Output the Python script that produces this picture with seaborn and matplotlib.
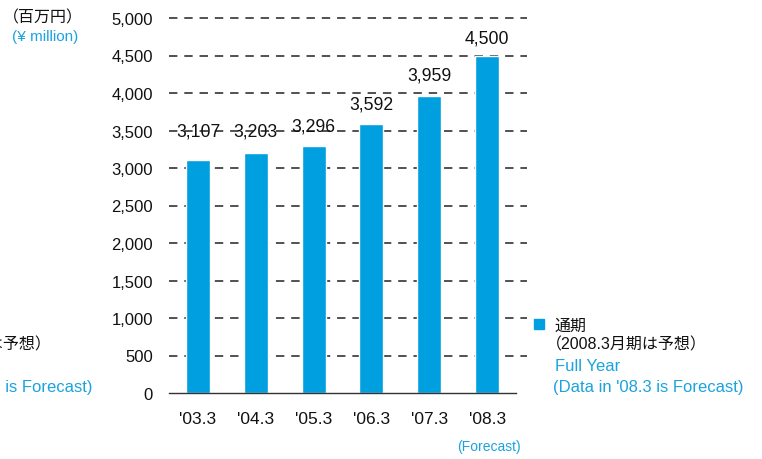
import matplotlib
matplotlib.use("Agg")
import matplotlib.pyplot as plt
import seaborn as sns
import pandas as pd
from matplotlib.ticker import FixedLocator, FuncFormatter

categories = ["'03.3", "'04.3", "'05.3", "'06.3", "'07.3", "'08.3"]
values = [3107, 3203, 3296, 3592, 3959, 4500]
value_labels = ["3,107", "3,203", "3,296", "3,592", "3,959", "4,500"]
yticks = [0, 500, 1000, 1500, 2000, 2500, 3000, 3500, 4000, 4500, 5000]

BAR = "#009FE0"
TXT_BLUE = "#1BA3DF"
W, H = 762, 460

sns.set_style("white")
plt.rcParams["font.family"] = ["Liberation Sans", "Noto Sans CJK JP", "DejaVu Sans"]

fig = plt.figure(figsize=(W / 100, H / 100), dpi=100)
ax = fig.add_axes([169 / W, (H - 394) / H, (527 - 169) / W, (394 - 19) / H])

df = pd.DataFrame({"cat": categories, "val": values})
sns.barplot(data=df, x="cat", y="val", color=BAR, saturation=1, width=0.415, ax=ax, zorder=3)

ax.set_xlim(-0.5, 5.69)
ax.set_ylim(0, 5000)
ax.set_xlabel("")
ax.set_ylabel("")

# grid (dashed, not at zero)
ax.set_yticks(yticks)
ax.yaxis.set_major_formatter(FuncFormatter(lambda v, p: f"{int(v):,}"))
for t in yticks[1:]:
    ax.axhline(t, linestyle=(0, (5.5, 4.5)), color="#222222", linewidth=1.1, zorder=1, clip_on=False)
ax.tick_params(axis="y", length=0, pad=11.5, labelsize=12, labelcolor="#111111")

# x axis
for s in ["top", "right", "left"]:
    ax.spines[s].set_visible(False)
ax.spines["bottom"].set_bounds(-0.5, 5.5)
ax.spines["bottom"].set_color("#333333")
ax.spines["bottom"].set_linewidth(1.0)
ax.spines["bottom"].set_zorder(4)
ax.xaxis.set_minor_locator(FixedLocator([i - 0.5 for i in range(7)]))
ax.tick_params(axis="x", which="major", length=0, pad=13, labelsize=12.5, labelcolor="#111111")
ax.tick_params(axis="x", which="minor", length=4, width=1.0, direction="in", color="#333333")

# value labels
label_pad_px = [29, 22, 20, 20, 21, 18]
for i, (v, lab) in enumerate(zip(values, value_labels)):
    ax.annotate(lab, (i, v), xytext=(0, label_pad_px[i] * 0.72), textcoords="offset points",
                ha="center", va="center", fontsize=12.7, color="#111111", zorder=5)

def fx(x):
    return x / W

def fy(y):
    return 1 - y / H

# unit labels
fig.text(fx(3), fy(18), "（百万円）", fontsize=11.5, color="#111111", va="center", ha="left")
fig.text(fx(12), fy(37), "(¥ million)", fontsize=11, color=TXT_BLUE, va="center", ha="left")

# forecast label
fig.text(fx(521), fy(447), "(Forecast)", fontsize=10, color=TXT_BLUE, va="center", ha="right")

# legend block (right)
x0 = 555
fig.patches.append(plt.Rectangle((fx(534), fy(330)), 10 / W, 10 / H,
                                 transform=fig.transFigure, color=BAR, figure=fig))
fig.text(fx(x0), fy(326), "通期", fontsize=11.5, color="#111111", va="center", ha="left")
fig.text(fx(x0 - 9), fy(345), "（2008.3月期は予想）", fontsize=11.5, color="#111111", va="center", ha="left")
fig.text(fx(x0), fy(367), "Full Year", fontsize=12, color=TXT_BLUE, va="center", ha="left")
fig.text(fx(x0 - 2), fy(388), "(Data in '08.3 is Forecast)", fontsize=12, color=TXT_BLUE, va="center", ha="left")

# cut-off copy of the legend at the left edge
fig.text(fx(52), fy(345), "（2008.3月期は予想）", fontsize=11.5, color="#111111", va="center", ha="right")
fig.text(fx(92), fy(388), "(Data in '08.3 is Forecast)", fontsize=12, color=TXT_BLUE, va="center", ha="right")

fig.savefig("out.png", dpi=100)
